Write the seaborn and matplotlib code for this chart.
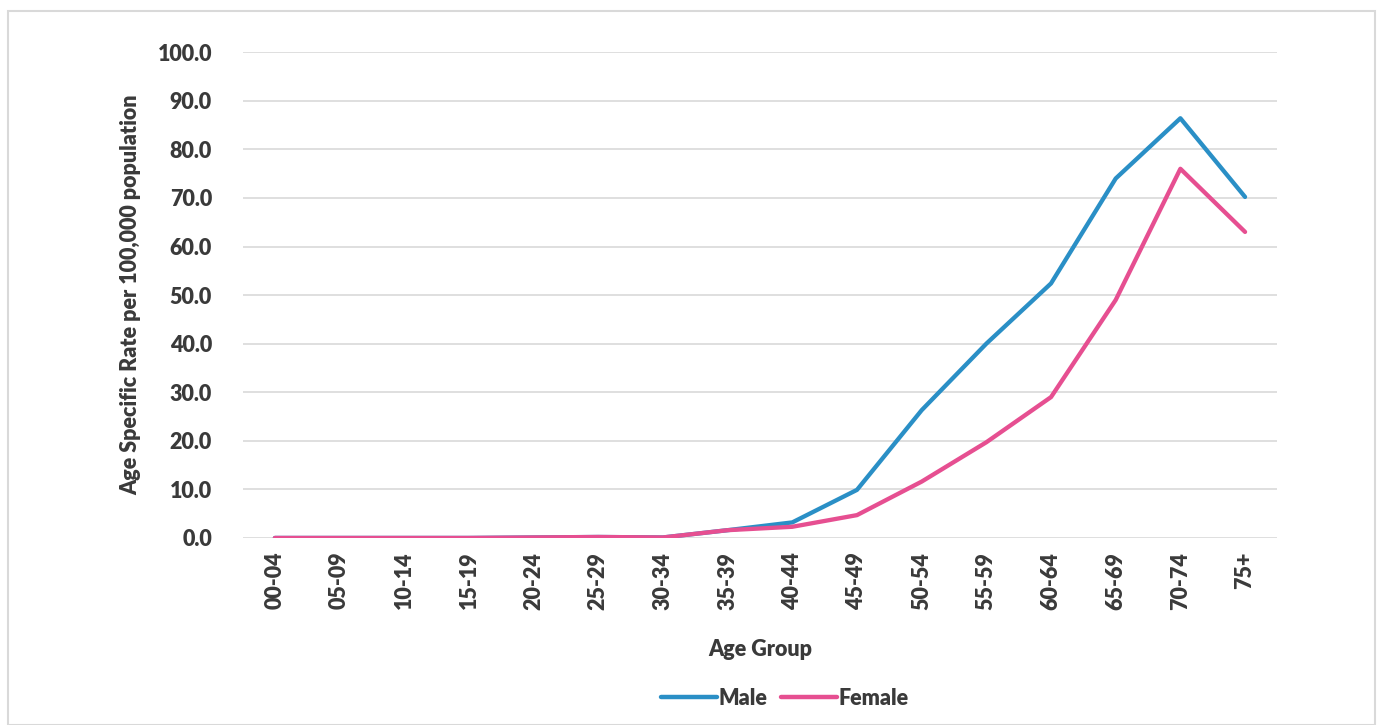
import matplotlib
matplotlib.use('Agg')
import matplotlib.pyplot as plt
import pandas as pd
import seaborn as sns
from matplotlib.patches import Rectangle


age_groups = ['00-04', '05-09', '10-14', '15-19', '20-24', '25-29', '30-34', '35-39',
              '40-44', '45-49', '50-54', '55-59', '60-64', '65-69', '70-74', '75+']
male = [0.0, 0.0, 0.0, 0.0, 0.1, 0.2, 0.1, 1.6, 3.2, 9.9, 26.3, 40.0, 52.4, 74.0, 86.4, 70.2]
female = [0.0, 0.0, 0.0, 0.0, 0.1, 0.2, 0.1, 1.6, 2.3, 4.7, 11.6, 19.7, 29.0, 49.0, 76.0, 63.0]
y_ticks = [0, 10, 20, 30, 40, 50, 60, 70, 80, 90, 100]

df = pd.DataFrame({
    'Age Group': age_groups * 2,
    'Rate': male + female,
    'Sex': ['Male'] * len(age_groups) + ['Female'] * len(age_groups),
})

sns.set_style('white')
plt.rcParams['font.family'] = ['Lato', 'DejaVu Sans']
text_col = '#3a3a3a'
fs = 15.5

fig = plt.figure(figsize=(13.78, 7.25), dpi=100)
ax = fig.add_axes([0.176, 0.258, 0.751, 0.670])

sns.lineplot(data=df, x='Age Group', y='Rate', hue='Sex', ax=ax,
             palette={'Male': '#2a8fc6', 'Female': '#e64f91'},
             linewidth=3.1, sort=False)

ax.set_xlim(-0.5, len(age_groups) - 0.5)
ax.set_ylim(0, 100)
ax.set_yticks(y_ticks)
ax.set_yticklabels(['%.1f' % v for v in y_ticks], fontsize=fs, fontweight='heavy', color=text_col)
ax.set_xticks(range(len(age_groups)))
ax.set_xticklabels(age_groups, rotation=90, fontsize=fs, fontweight='heavy', color=text_col)
ax.tick_params(axis='both', length=0)
ax.tick_params(axis='y', pad=22)
ax.tick_params(axis='x', pad=10)
ax.yaxis.grid(True, color='#d9d9d9', linewidth=1.2)
ax.set_axisbelow(True)
for s in ax.spines.values():
    s.set_visible(False)

ax.set_ylabel('Age Specific Rate per 100,000 population', fontsize=fs, fontweight='heavy',
              color=text_col, labelpad=12)
ax.set_xlabel('Age Group', fontsize=fs, fontweight='heavy', color=text_col, labelpad=21)

leg = ax.legend(loc='center', bbox_to_anchor=(0.524, -0.33), ncol=2, frameon=False,
                fontsize=fs, handlelength=2.6, handletextpad=0.1, columnspacing=0.6)
for t in leg.get_texts():
    t.set_fontweight('heavy')
    t.set_color(text_col)
for h in leg.get_lines():
    h.set_linewidth(3.2)

fig.patches.append(Rectangle((0.006, 0.0), 0.992, 0.985, transform=fig.transFigure,
                             fill=False, edgecolor='#d9d9d9', linewidth=1.5))

fig.savefig('out.png', dpi=100)
